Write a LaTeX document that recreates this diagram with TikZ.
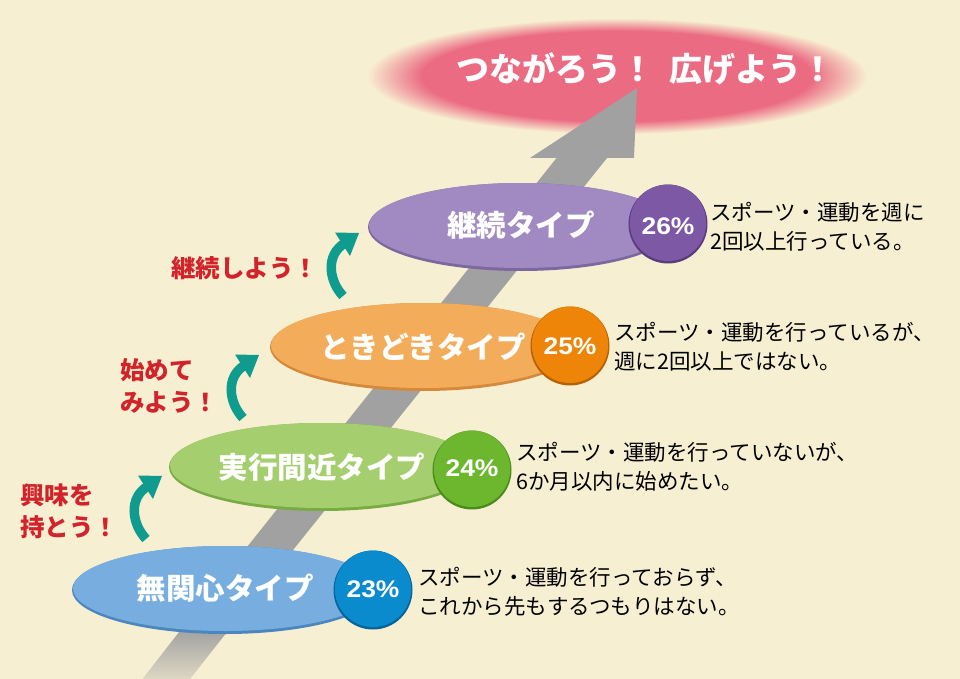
\documentclass[tikz,border=0pt]{standalone}
\usepackage{fontspec}
\setmainfont{Noto Sans CJK JP}
\newfontfamily\pctfont{Liberation Sans}[FakeStretch=1.1]
\usetikzlibrary{calc}
\definecolor{bgc}{HTML}{F7EFD2}
\definecolor{pk}{HTML}{EB6B82}
\definecolor{arrowgray}{HTML}{A1A1A1}
\definecolor{tealc}{HTML}{0F9B8E}
\definecolor{cheerred}{HTML}{D2232A}
\definecolor{blueE}{HTML}{77AEDF}\definecolor{blueR}{HTML}{4C86BF}
\definecolor{blueC}{HTML}{0A8BCE}\definecolor{blueCR}{HTML}{06649A}
\definecolor{greenE}{HTML}{A5CF6F}\definecolor{greenR}{HTML}{79AB43}
\definecolor{greenC}{HTML}{6DB72E}\definecolor{greenCR}{HTML}{4C8A1C}
\definecolor{orangeE}{HTML}{F3AC5A}\definecolor{orangeR}{HTML}{D5893A}
\definecolor{orangeC}{HTML}{EE8508}\definecolor{orangeCR}{HTML}{B56204}
\definecolor{purpleE}{HTML}{A189C1}\definecolor{purpleR}{HTML}{7D679F}
\definecolor{purpleC}{HTML}{7D58A4}\definecolor{purpleCR}{HTML}{5A3C7E}
\pgfdeclareradialshading{pinkglow}{\pgfpoint{0bp}{0bp}}{color(0bp)=(pk); color(19.5bp)=(pk); color(25bp)=(bgc); color(50bp)=(bgc)}
\tikzset{
  typelabel/.style={font=\fontsize{29.5}{30}\selectfont\bfseries, text=white, inner sep=0pt},
  pct/.style={font=\pctfont\bfseries\fontsize{24}{24}\selectfont, text=white, inner sep=0pt},
  desc/.style={font=\fontsize{21.5}{29}\selectfont, text=black, align=left, anchor=west, inner sep=0pt},
  cheer/.style={font=\fontsize{24.5}{32.5}\selectfont\bfseries, text=cheerred, align=left, anchor=west, inner sep=0pt},
  tealstroke/.style={draw=tealc, line width=9.5pt},
}
\begin{document}
\begin{tikzpicture}[x=1pt,y=-1pt]
\fill[bgc] (0,0) rectangle (960,679);
\useasboundingbox (0,0) rectangle (960,679);
% pink glow ellipse
\shade[shading=pinkglow] (617,76) ellipse [x radius=250, y radius=58];
% big gray arrow
\fill[arrowgray] (556.5,158) -- (530,158) -- (637,88) -- (634,158) -- (607,158) -- (229,630) -- (181,630) -- cycle;
\shade[top color=arrowgray, bottom color=arrowgray!30!bgc] (181,629.5) -- (229,629.5) -- (190,679) -- (142.5,679) -- cycle;
% title
\node[font=\fontsize{33}{34}\selectfont\bfseries, text=white, inner sep=0pt] (title) at (645.5,69) {つながろう！\hspace{15pt}広げよう！};
% teal curved arrows
\foreach \tx/\ty [count=\i] in {162/476, 259/355, 359/233} {
  \coordinate (tip\i) at (\tx,\ty);
  \begin{scope}[shift={(tip\i)}]
    \draw[tealstroke] (-16,63) .. controls (-30,48) and (-34,22) .. (-14,10);
    \fill[tealc] (0,0) -- (-24,-0.5) -- (-9,23) -- cycle;
  \end{scope}
}
% cheer labels
\node[cheer] (cheer1) at (20,511) {興味を\\持とう！};
\node[cheer] (cheer2) at (120,386) {始めて\\みよう！};
\node[cheer] (cheer3) at (171,268) {継続しよう！};
% type ellipses and circles
\foreach \ex/\ey/\cx/\cy/\nm in {225/590/373/590/blue, 322/467/472/470/green, 423/347/570/346/orange, 521/227/668/224/purple} {
  \coordinate (E\nm) at (\ex,\ey);
  \coordinate (C\nm) at (\cx,\cy);
  \fill[\nm R] (E\nm) ellipse [x radius=153, y radius=44];
  \fill[\nm E] ($(E\nm)+(0,-1.5)$) ellipse [x radius=152, y radius=42.5];
  \fill[\nm CR] (C\nm) circle [radius=39.5];
  \fill[\nm C] ($(C\nm)+(0,-1.2)$) circle [radius=38.2];
}
\node[typelabel] (t1) at (225,588) {無関心タイプ};
\node[typelabel] (t2) at (322,467) {実行間近タイプ};
\node[typelabel] (t3) at (423,347) {ときどきタイプ};
\node[typelabel] (t4) at (521,225) {継続タイプ};
\node[pct] (p1) at (373,589) {23\%};
\node[pct] (p2) at (472,468) {24\%};
\node[pct] (p3) at (570,346) {25\%};
\node[pct] (p4) at (668,226) {26\%};
% descriptions
\node[desc] (d1) at (418,592) {スポーツ・運動を行っておらず、\\これから先もするつもりはない。};
\node[desc] (d2) at (516,467) {スポーツ・運動を行っていないが、\\6か月以内に始めたい。};
\node[desc] (d3) at (614,346.5) {スポーツ・運動を行っているが、\\週に2回以上ではない。};
\node[desc] (d4) at (710,226.5) {スポーツ・運動を週に\\2回以上行っている。};
\end{tikzpicture}
\end{document}
